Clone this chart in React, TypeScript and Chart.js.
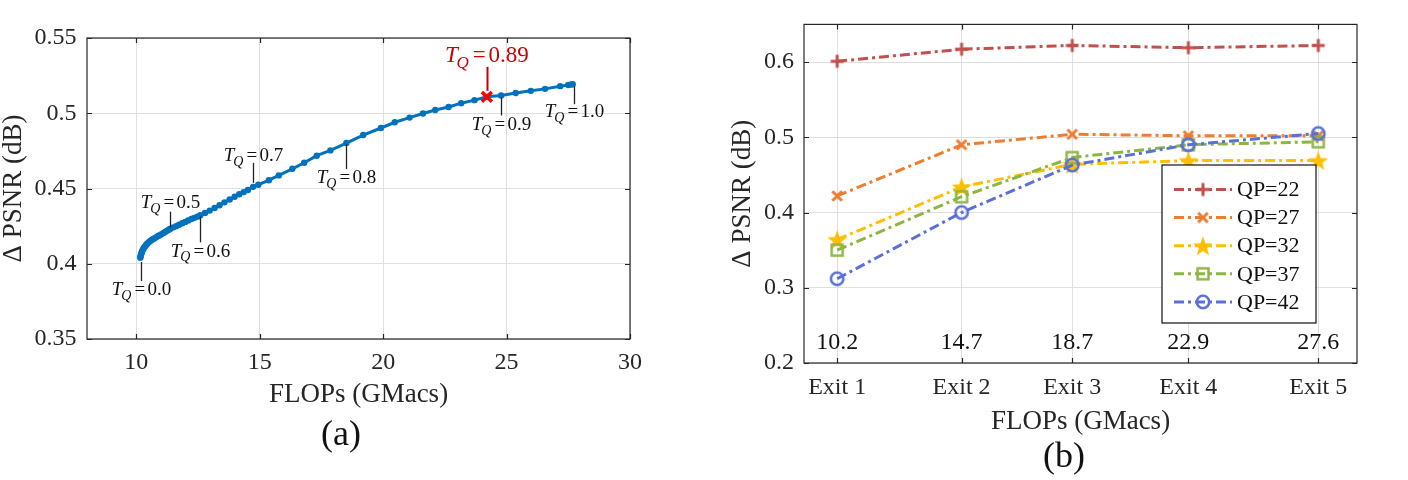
import React, { useEffect, useRef } from "react";
import { Chart, registerables } from "chart.js";
Chart.register(...registerables);

// ---------------- Panel (a) data ----------------
const curveFlops = [
  10.16, 10.17, 10.18, 10.19, 10.21, 10.23, 10.25, 10.28, 10.31, 10.34,
  10.38, 10.42, 10.46, 10.51, 10.56, 10.62, 10.68, 10.74, 10.81, 10.88,
  10.95, 11.02, 11.1, 11.18, 11.26, 11.33, 11.38,
  11.5, 11.61, 11.73, 11.86, 11.98, 12.1, 12.23, 12.35, 12.47, 12.59,
  12.78, 12.97, 13.17, 13.37, 13.57, 13.78, 13.98, 14.17, 14.35, 14.52, 14.73,
  14.94, 15.37, 15.77, 16.32, 16.8, 17.31, 17.86, 18.51,
  19.19, 19.91, 20.47, 21.07, 21.61, 22.11, 22.65, 23.16, 23.7, 24.2,
  24.78, 25.37, 25.98, 26.56, 27.17, 27.5, 27.62, 27.68,
];
const curvePsnr = [
  0.404, 0.4048, 0.4055, 0.4062, 0.4072, 0.4081, 0.4089, 0.4099, 0.4107, 0.4114,
  0.4122, 0.413, 0.4137, 0.4144, 0.4151, 0.4158, 0.4164, 0.417, 0.4177, 0.4184,
  0.419, 0.4197, 0.4205, 0.4213, 0.4221, 0.4228, 0.4233,
  0.4242, 0.425, 0.4259, 0.4269, 0.4278, 0.4287, 0.4297, 0.4305, 0.4313, 0.4322,
  0.4338, 0.4353, 0.437, 0.4389, 0.4408, 0.4427, 0.4445, 0.4462, 0.4476, 0.449, 0.4511,
  0.4525, 0.4555, 0.4587, 0.4631, 0.4671, 0.4718, 0.4753, 0.4802,
  0.4855, 0.4902, 0.494, 0.4971, 0.4998, 0.5022, 0.5042, 0.5067, 0.5087, 0.5109,
  0.5118, 0.5135, 0.5149, 0.5162, 0.518, 0.5188, 0.5191, 0.5193,
];
const selFlops = [24.2];
const selPsnr = [0.5109];
const selText = "0.89";
const tqText = ["0.0", "0.5", "0.6", "0.7", "0.8", "0.9", "1.0"];
const tqFlops = [10.17, 11.38, 12.59, 14.73, 18.51, 24.78, 27.72];
const tqPsnr = [0.4045, 0.4233, 0.4322, 0.4511, 0.4802, 0.5118, 0.5193];
const aXTicks = [10, 15, 20, 25, 30];
const aXTickLabels = ["10", "15", "20", "25", "30"];
const aYTicks = [0.35, 0.4, 0.45, 0.5, 0.55];
const aYTickLabels = ["0.35", "0.4", "0.45", "0.5", "0.55"];

// ---------------- Panel (b) data ----------------
const exitNames = ["Exit 1", "Exit 2", "Exit 3", "Exit 4", "Exit 5"];
const exitFlops = [10.2, 14.7, 18.7, 22.9, 27.6];
const exitFlopsText = ["10.2", "14.7", "18.7", "22.9", "27.6"];
const qpNames = ["QP=22", "QP=27", "QP=32", "QP=37", "QP=42"];
const qp22 = [0.601, 0.617, 0.622, 0.619, 0.622];
const qp27 = [0.422, 0.49, 0.504, 0.502, 0.502];
const qp32 = [0.364, 0.434, 0.464, 0.469, 0.469];
const qp37 = [0.35, 0.421, 0.473, 0.49, 0.494];
const qp42 = [0.312, 0.4, 0.463, 0.49, 0.505];
const bYTicks = [0.2, 0.3, 0.4, 0.5, 0.6];
const bYTickLabels = ["0.2", "0.3", "0.4", "0.5", "0.6"];

// ---------------- styles ----------------
const FAMILY = '"Liberation Serif", "DejaVu Serif", serif';
const INK = "#262626";
const GRID = "#dfdfdf";
const qpColors = ["#C0504D", "#ED7D31", "#FFBF00", "#8CB640", "#5A70D8"];
const qpMarkers = ["plus", "x", "star", "square", "circle"];
const DASH = [10, 4, 3, 4];
// leader offsets [lineStart, lineEnd, textCenter] relative to curve point (px)
const tqOffsets = [
  [5, 24, 32],
  [-1, -17, -27],
  [1, 27, 35],
  [-4, -24, -32],
  [1, 26, 34],
  [2, 20, 28],
  [2, 20, 27],
];
const selOffset = [-6, -30, -42];

function makeMarker(kind: string, color: string): HTMLCanvasElement {
  const c = document.createElement("canvas");
  const s = 26;
  c.width = s;
  c.height = s;
  const g = c.getContext("2d")!;
  const m = s / 2;
  g.strokeStyle = color;
  g.fillStyle = color;
  g.lineCap = "butt";
  if (kind === "plus") {
    g.lineWidth = 3;
    g.beginPath();
    g.moveTo(m - 6.5, m);
    g.lineTo(m + 6.5, m);
    g.moveTo(m, m - 6.5);
    g.lineTo(m, m + 6.5);
    g.stroke();
  } else if (kind === "x") {
    g.lineWidth = 3;
    const d = 4.8;
    g.beginPath();
    g.moveTo(m - d, m - d);
    g.lineTo(m + d, m + d);
    g.moveTo(m - d, m + d);
    g.lineTo(m + d, m - d);
    g.stroke();
  } else if (kind === "star") {
    const R = 10.5;
    const r = 4.3;
    g.beginPath();
    for (let i = 0; i < 10; i++) {
      const ang = -Math.PI / 2 + (i * Math.PI) / 5;
      const rr = i % 2 === 0 ? R : r;
      const px = m + rr * Math.cos(ang);
      const py = m + 1 + rr * Math.sin(ang);
      if (i === 0) g.moveTo(px, py);
      else g.lineTo(px, py);
    }
    g.closePath();
    g.fill();
  } else if (kind === "square") {
    g.lineWidth = 2.4;
    g.strokeRect(m - 5.5, m - 5.5, 11, 11);
  } else if (kind === "circle") {
    g.lineWidth = 2.6;
    g.beginPath();
    g.arc(m, m, 6.2, 0, Math.PI * 2);
    g.stroke();
  }
  return c;
}

const boxPlugin = {
  id: "boxTicks",
  afterDraw(chart: any) {
    const { ctx, chartArea: a, scales } = chart;
    ctx.save();
    ctx.strokeStyle = INK;
    ctx.lineWidth = 1.2;
    ctx.strokeRect(a.left, a.top, a.right - a.left, a.bottom - a.top);
    const tl = 5;
    ctx.beginPath();
    scales.x.ticks.forEach((t: any) => {
      const px = Math.round(scales.x.getPixelForValue(t.value)) + 0.5;
      ctx.moveTo(px, a.bottom);
      ctx.lineTo(px, a.bottom - tl);
      ctx.moveTo(px, a.top);
      ctx.lineTo(px, a.top + tl);
    });
    scales.y.ticks.forEach((t: any) => {
      const py = Math.round(scales.y.getPixelForValue(t.value)) + 0.5;
      ctx.moveTo(a.left, py);
      ctx.lineTo(a.left + tl, py);
      ctx.moveTo(a.right, py);
      ctx.lineTo(a.right - tl, py);
    });
    ctx.stroke();
    ctx.restore();
  },
};

function drawTQ(ctx: CanvasRenderingContext2D, cx: number, cy: number, value: string, size: number, color: string) {
  const ital = `italic ${size}px ${FAMILY}`;
  const subSize = Math.round(size * 0.72);
  const sub = `italic ${subSize}px ${FAMILY}`;
  const main = `${size}px ${FAMILY}`;
  ctx.font = ital;
  const wT = ctx.measureText("T").width;
  ctx.font = sub;
  const wQ = ctx.measureText("Q").width;
  ctx.font = main;
  const wEq = ctx.measureText("=").width;
  const wV = ctx.measureText(value).width;
  const gap = size * 0.12;
  const total = wT + wQ + gap + wEq + gap + wV;
  let x = cx - total / 2;
  const base = cy + size * 0.33;
  ctx.fillStyle = color;
  ctx.textAlign = "left";
  ctx.textBaseline = "alphabetic";
  ctx.font = ital;
  ctx.fillText("T", x, base);
  x += wT - size * 0.05;
  ctx.font = sub;
  ctx.fillText("Q", x, base + size * 0.25);
  x += wQ + gap + size * 0.05;
  ctx.font = main;
  ctx.fillText("=", x, base);
  x += wEq + gap;
  ctx.fillText(value, x, base);
}

const annotPluginA = {
  id: "annotA",
  afterDraw(chart: any) {
    const { ctx, scales } = chart;
    ctx.save();
    ctx.strokeStyle = "#222";
    ctx.lineWidth = 1.3;
    tqText.forEach((txt, i) => {
      const px = Math.round(scales.x.getPixelForValue(tqFlops[i])) + 0.5;
      const py = scales.y.getPixelForValue(tqPsnr[i]);
      const [s, e, t] = tqOffsets[i];
      ctx.beginPath();
      ctx.moveTo(px, py + s);
      ctx.lineTo(px, py + e);
      ctx.stroke();
      drawTQ(ctx, px, py + t, txt, 19, "#111");
    });
    // selected threshold
    const sx = scales.x.getPixelForValue(selFlops[0]);
    const sy = scales.y.getPixelForValue(selPsnr[0]);
    ctx.strokeStyle = "#C00000";
    ctx.lineWidth = 2;
    ctx.beginPath();
    ctx.moveTo(Math.round(sx) + 0.5, sy + selOffset[1]);
    ctx.lineTo(Math.round(sx) + 0.5, sy + selOffset[0]);
    ctx.stroke();
    drawTQ(ctx, sx, sy + selOffset[2], selText, 23, "#CC0000");
    // panel label
    ctx.fillStyle = "#111";
    ctx.font = `36px ${FAMILY}`;
    ctx.textAlign = "center";
    ctx.textBaseline = "middle";
    ctx.fillText("(a)", 341, 436);
    ctx.restore();
  },
};

function makeAnnotPluginB(markers: HTMLCanvasElement[]) {
  return {
    id: "annotB",
    afterDraw(chart: any) {
      const { ctx, scales } = chart;
      ctx.save();
      // FLOPs values inside plot
      ctx.fillStyle = "#111";
      ctx.font = `24px ${FAMILY}`;
      ctx.textAlign = "center";
      ctx.textBaseline = "middle";
      exitFlops.forEach((v, i) => {
        ctx.fillText(exitFlopsText[i], scales.x.getPixelForValue(v), 343);
      });
      // legend
      const bx = 458, by = 165, bw = 154, bh = 158;
      ctx.fillStyle = "#fff";
      ctx.fillRect(bx, by, bw, bh);
      ctx.strokeStyle = "#111";
      ctx.lineWidth = 1.2;
      ctx.strokeRect(bx, by, bw, bh);
      qpNames.forEach((name, i) => {
        const y = 189.5 + i * 28.1;
        ctx.strokeStyle = qpColors[i];
        ctx.lineWidth = 3;
        ctx.setLineDash(DASH);
        ctx.beginPath();
        ctx.moveTo(470, y);
        ctx.lineTo(528, y);
        ctx.stroke();
        ctx.setLineDash([]);
        const mk = markers[i];
        ctx.drawImage(mk, 499 - mk.width / 2, y - mk.height / 2);
        ctx.fillStyle = "#111";
        ctx.font = `22px ${FAMILY}`;
        ctx.textAlign = "left";
        ctx.textBaseline = "middle";
        ctx.fillText(name, 533, y + 1);
      });
      ctx.fillStyle = "#111";
      ctx.font = `36px ${FAMILY}`;
      ctx.textAlign = "center";
      ctx.textBaseline = "middle";
      ctx.fillText("(b)", 360, 458);
      ctx.restore();
    },
  };
}

export default function App() {
  const refA = useRef<HTMLCanvasElement>(null);
  const refB = useRef<HTMLCanvasElement>(null);

  useEffect(() => {
    const tickFont = { family: FAMILY, size: 24 };
    const titleFont = { family: FAMILY, size: 27, lineHeight: 1 };

    const chartA = new Chart(refA.current!, {
      type: "scatter",
      data: {
        datasets: [
          {
            data: [{ x: selFlops[0], y: selPsnr[0] }],
            pointStyle: "crossRot",
            pointRadius: 7,
            borderColor: "#FF0000",
            backgroundColor: "#FF0000",
            pointBorderWidth: 3.5,
            showLine: false,
            order: 0,
          } as any,
          {
            data: curveFlops.map((x, i) => ({ x, y: curvePsnr[i] })),
            borderColor: "#0072BD",
            backgroundColor: "#0072BD",
            borderWidth: 3,
            pointRadius: 3.2,
            pointBorderWidth: 0,
            showLine: true,
            order: 1,
          } as any,
        ],
      },
      options: {
        responsive: false,
        animation: false,
        devicePixelRatio: 1,
        layout: { padding: { left: 0, right: 74, top: 38, bottom: 0 } },
        plugins: { legend: { display: false }, tooltip: { enabled: false } },
        scales: {
          x: {
            type: "linear",
            min: 8,
            max: 30,
            afterBuildTicks: (ax: any) => {
              ax.ticks = aXTicks.map((v) => ({ value: v }));
            },
            afterFit: (ax: any) => {
              ax.height = 141;
            },
            grid: { color: GRID, lineWidth: 1, drawTicks: false },
            border: { display: false },
            ticks: {
              padding: 9.5,
              font: tickFont,
              color: INK,
              autoSkip: false,
              maxRotation: 0,
              callback: (_v: any, i: number) => aXTickLabels[i],
            },
            title: {
              display: true,
              text: "FLOPs (GMacs)",
              font: titleFont,
              color: INK,
              padding: { top: 0, bottom: 71.5 },
            },
          },
          y: {
            type: "linear",
            min: 0.35,
            max: 0.55,
            afterBuildTicks: (ax: any) => {
              ax.ticks = aYTicks.map((v) => ({ value: v }));
            },
            afterFit: (ax: any) => {
              ax.width = 87;
            },
            grid: { color: GRID, lineWidth: 1, drawTicks: false },
            border: { display: false },
            ticks: {
              padding: 10.6,
              font: tickFont,
              color: INK,
              autoSkip: false,
              callback: (_v: any, i: number) => aYTickLabels[i],
            },
            title: {
              display: true,
              text: "Δ PSNR (dB)",
              font: titleFont,
              color: INK,
              padding: { top: 0, bottom: 0 },
            },
          },
        },
      },
      plugins: [boxPlugin, annotPluginA],
    } as any);

    const markers = qpMarkers.map((k, i) => makeMarker(k, qpColors[i]));
    const series = [qp22, qp27, qp32, qp37, qp42];

    const chartB = new Chart(refB.current!, {
      type: "scatter",
      data: {
        datasets: series.map((vals, i) => ({
          label: qpNames[i],
          data: exitFlops.map((x, j) => ({ x, y: vals[j] })),
          borderColor: qpColors[i],
          backgroundColor: qpColors[i],
          borderWidth: 3,
          borderDash: DASH,
          pointStyle: markers[i],
          pointRadius: 6,
          showLine: true,
          order: 5 - i,
        })) as any,
      },
      options: {
        responsive: false,
        animation: false,
        devicePixelRatio: 1,
        layout: { padding: { left: 0, right: 51, top: 5, bottom: 0 } },
        plugins: { legend: { display: false }, tooltip: { enabled: false } },
        scales: {
          x: {
            type: "linear",
            min: 9,
            max: 29,
            afterBuildTicks: (ax: any) => {
              ax.ticks = exitFlops.map((v) => ({ value: v }));
            },
            afterFit: (ax: any) => {
              ax.height = 117;
            },
            grid: { color: GRID, lineWidth: 1, drawTicks: false },
            border: { display: false },
            ticks: {
              padding: 9.9,
              font: tickFont,
              color: INK,
              autoSkip: false,
              maxRotation: 0,
              callback: (_v: any, i: number) => exitNames[i],
            },
            title: {
              display: true,
              text: "FLOPs (GMacs)",
              font: titleFont,
              color: INK,
              padding: { top: 0, bottom: 44.5 },
            },
          },
          y: {
            type: "linear",
            min: 0.2,
            max: 0.65,
            afterBuildTicks: (ax: any) => {
              ax.ticks = bYTicks.map((v) => ({ value: v }));
            },
            afterFit: (ax: any) => {
              ax.width = 100;
            },
            grid: { color: GRID, lineWidth: 1, drawTicks: false },
            border: { display: false },
            ticks: {
              padding: 10,
              font: tickFont,
              color: INK,
              autoSkip: false,
              callback: (_v: any, i: number) => bYTickLabels[i],
            },
            title: {
              display: true,
              text: "Δ PSNR (dB)",
              font: titleFont,
              color: INK,
              padding: { top: 25.5, bottom: 0 },
            },
          },
        },
      },
      plugins: [boxPlugin, makeAnnotPluginB(markers)],
    } as any);

    return () => {
      chartA.destroy();
      chartB.destroy();
    };
  }, []);

  return (
    <div style={{ position: "fixed", left: 0, top: 0, width: 1408, height: 480, background: "#fff" }}>
      <canvas
        ref={refA}
        width={704}
        height={480}
        style={{ position: "absolute", left: 0, top: 0, width: 704, height: 480 }}
      />
      <canvas
        ref={refB}
        width={704}
        height={480}
        style={{ position: "absolute", left: 704, top: 0, width: 704, height: 480 }}
      />
    </div>
  );
}
